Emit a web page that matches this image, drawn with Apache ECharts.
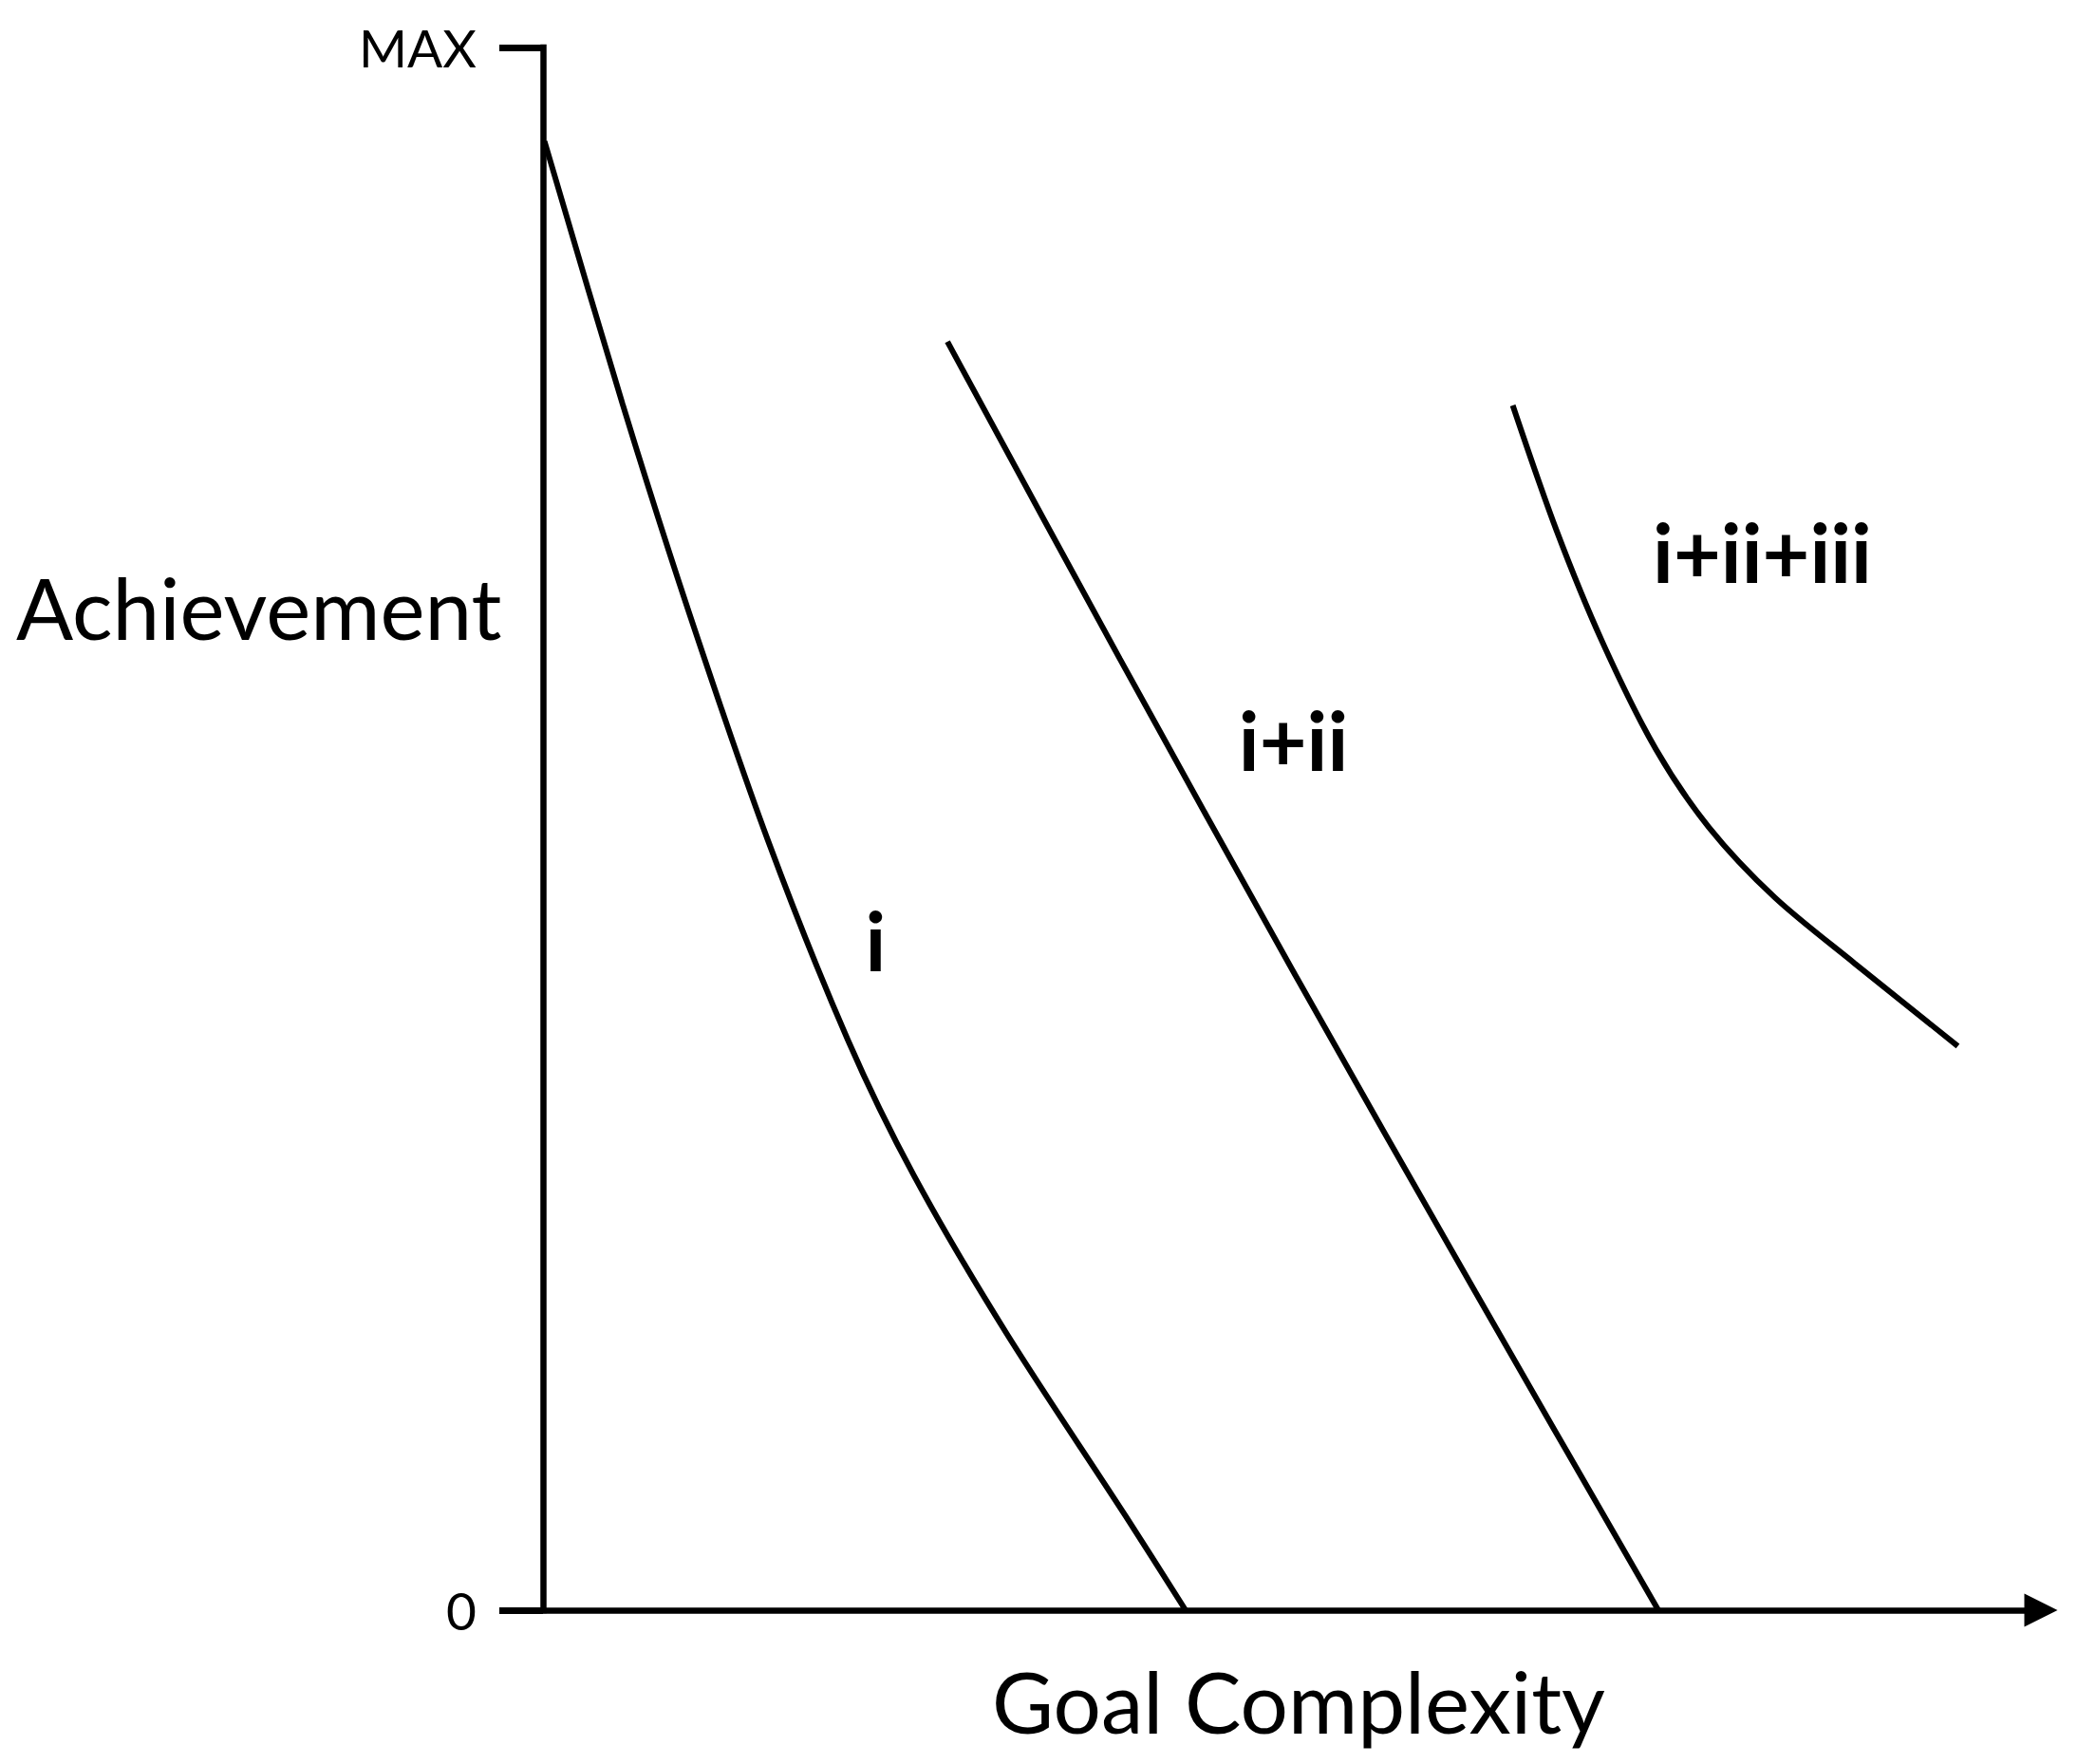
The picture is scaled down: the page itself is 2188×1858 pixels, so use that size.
<!DOCTYPE html>
<html>
<head>
<meta charset="utf-8">
<title>Achievement vs Goal Complexity</title>
<script src="https://cdn.jsdelivr.net/npm/echarts@6/dist/echarts.min.js"></script>
<style>
    html, body { margin: 0; padding: 0; background: #fff; }
    #chart { width: 2188px; height: 1858px; }
</style>
</head>
<body>
<div id="chart"></div>
<script>
// curve i  (goal complexity, achievement), both axes run 0..100
const curveI_x = [0.1, 5.31, 9.73, 15.04, 20.35, 24.77, 30.89, 38.91, 42.90];
const curveI_y = [94.0, 77.2, 63.9, 49.2, 36.5, 27.8, 17.8, 6.0, 0];

// curve i+ii
const curveII_x = [27.0, 38.5, 50.22, 62.23, 74.46];
const curveII_y = [81.17, 60.9, 40.64, 20.38, 0];

// curve i+ii+iii
const curveIII_x = [64.74, 67.66, 70.75, 74.29, 77.83, 82.24, 87.55, 94.45];
const curveIII_y = [77.1, 69.1, 61.9, 55.1, 50.1, 45.6, 41.4, 36.1];

const seriesNames = ['i', 'i+ii', 'i+ii+iii'];
// where each curve's label sits (data coords)
const labelPos = [[22.2, 42.95], [50.1, 55.75], [81.4, 67.8]];

const yTickLabels = { 0: '0', 100: 'MAX' };

const FONT = 'Lato';

function zip(xs, ys) {
    return xs.map(function (x, i) { return [x, ys[i]]; });
}

const curves = [zip(curveI_x, curveI_y), zip(curveII_x, curveII_y), zip(curveIII_x, curveIII_y)];

const chart = echarts.init(document.getElementById('chart'), null, { renderer: 'svg' });

const option = {
    animation: false,
    backgroundColor: '#fff',
    grid: { left: 572, right: 38, top: 50, bottom: 162 },
    xAxis: {
        type: 'value',
        min: 0,
        max: 100,
        axisLine: {
            show: true,
            symbol: ['none', 'triangle'],
            symbolSize: [35, 35],
            lineStyle: { color: '#000', width: 6.5 }
        },
        axisTick: { show: false },
        axisLabel: { show: false },
        splitLine: { show: false }
    },
    yAxis: {
        type: 'value',
        min: 0,
        max: 100,
        interval: 100,
        axisLine: {
            show: true,
            lineStyle: { color: '#000', width: 6.5, cap: 'square' }
        },
        axisTick: { show: true, length: 46, lineStyle: { color: '#000', width: 7 } },
        axisLabel: {
            margin: 70,
            color: '#000',
            fontFamily: FONT,
            fontSize: 55,
            formatter: function (v) { return yTickLabels[v] || ''; }
        },
        splitLine: { show: false }
    },
    // axis titles
    graphic: [
        {
            type: 'text',
            left: 17,
            top: 595,
            style: { text: 'Achievement', fill: '#000', font: '89px ' + FONT }
        },
        {
            type: 'text',
            left: 1045,
            top: 1747,
            style: { text: 'Goal Complexity', fill: '#000', font: '89px ' + FONT }
        }
    ],
    series: curves.map(function (data, idx) {
        return {
            name: seriesNames[idx],
            type: 'line',
            data: data,
            smooth: 0.3,
            symbol: 'none',
            clip: false,
            lineStyle: { color: '#000', width: 6 },
            markPoint: {
                symbol: 'circle',
                symbolSize: 0,
                itemStyle: { color: 'transparent' },
                label: {
                    show: true,
                    position: 'inside',
                    color: '#000',
                    fontFamily: FONT,
                    fontWeight: 'bold',
                    fontSize: 86,
                    formatter: seriesNames[idx]
                },
                data: [{ coord: labelPos[idx], name: seriesNames[idx] }]
            }
        };
    })
};

chart.setOption(option);
</script>
</body>
</html>
